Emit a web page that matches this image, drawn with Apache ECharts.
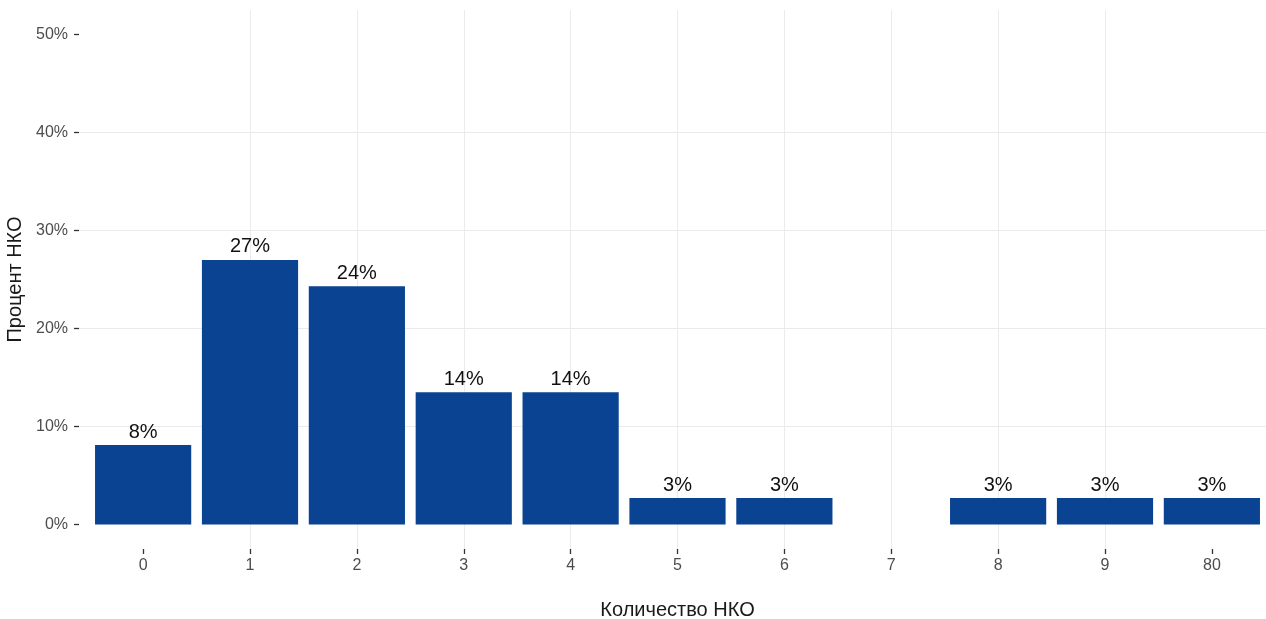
<!DOCTYPE html>
<html>
<head>
<meta charset="utf-8">
<script src="https://cdn.jsdelivr.net/npm/echarts@6/dist/echarts.min.js"></script>
<style>
html,body{margin:0;padding:0;background:#fff;}
#chart{width:1266px;height:619px;}
</style>
</head>
<body>
<div id="chart"></div>
<script>
const categories = ['0','1','2','3','4','5','6','7','8','9','80'];
const percentValues = [8.1, 27.0, 24.3, 13.5, 13.5, 2.7, 2.7, null, 2.7, 2.7, 2.7];
const yTickValues = [0, 10, 20, 30, 40, 50];
const xTitle = 'Количество НКО';
const yTitle = 'Процент НКО';

const xPositions = categories.map((c, i) => i);
const barData = percentValues.map((v, i) => [i, v]);

const chart = echarts.init(document.getElementById('chart'), null, {renderer: 'canvas'});
chart.setOption({
  backgroundColor: '#ffffff',
  animation: false,
  grid: {left: 79, top: 10, width: 1197, height: 539, containLabel: false, outerBoundsMode: 'none'},
  xAxis: {
    type: 'value',
    min: -0.6,
    max: 10.6,
    interval: 1,
    name: xTitle,
    nameLocation: 'middle',
    nameGap: 51,
    nameTextStyle: {fontFamily: 'Liberation Sans', fontSize: 20, color: '#1a1a1a'},
    axisLine: {show: false, onZero: false},
    axisTick: {show: true, length: 5, customValues: xPositions, lineStyle: {color: '#333333', width: 1.3}},
    axisLabel: {
      customValues: xPositions,
      margin: 9,
      fontFamily: 'Liberation Sans', fontSize: 16, color: '#4d4d4d',
      formatter: v => categories[Math.round(v)]
    },
    splitLine: {show: true, showMinLine: false, showMaxLine: false, lineStyle: {color: '#ebebeb', width: 1}}
  },
  yAxis: {
    type: 'value',
    min: -2.5,
    max: 52.5,
    interval: 10,
    name: yTitle,
    nameLocation: 'middle',
    nameGap: 47,
    nameTextStyle: {fontFamily: 'Liberation Sans', fontSize: 20, color: '#1a1a1a'},
    axisLine: {show: false, onZero: false},
    axisTick: {show: true, length: 5, customValues: yTickValues, lineStyle: {color: '#333333', width: 1.3}},
    axisLabel: {
      customValues: yTickValues,
      margin: 11,
      fontFamily: 'Liberation Sans', fontSize: 16, color: '#4d4d4d',
      formatter: v => v + '%'
    },
    splitLine: {show: true, showMinLine: false, showMaxLine: false, lineStyle: {color: '#ebebeb', width: 1}}
  },
  series: [{
    type: 'bar',
    data: barData,
    barWidth: '90%',
    itemStyle: {color: '#0a4391'},
    label: {
      show: true,
      position: 'top',
      distance: 3,
      fontFamily: 'Liberation Sans',
      fontSize: 20,
      color: '#111111',
      formatter: p => (p.value[1] == null ? '' : Math.round(p.value[1]) + '%')
    }
  }]
});
</script>
</body>
</html>
